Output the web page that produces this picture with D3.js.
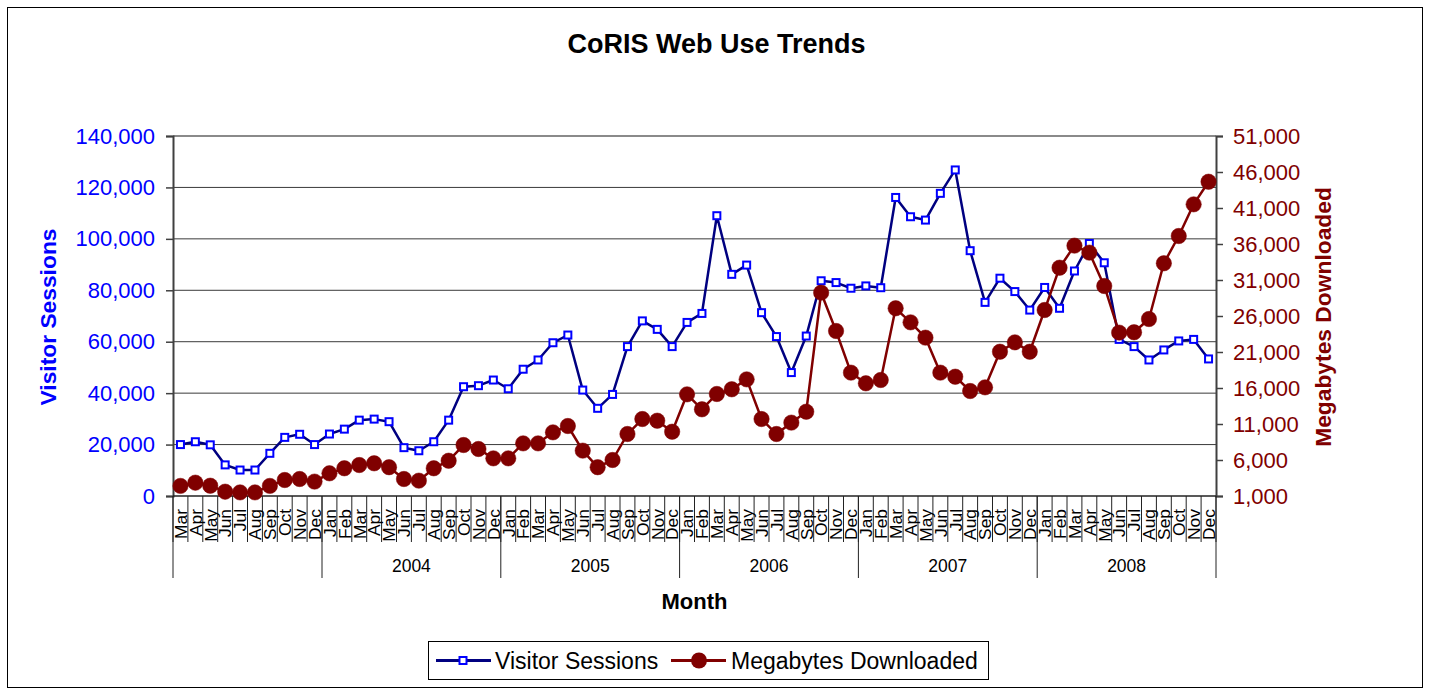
<!DOCTYPE html>
<html>
<head>
<meta charset="utf-8">
<script src="https://cdn.jsdelivr.net/npm/d3@7"></script>
<style>
  html, body { margin: 0; padding: 0; background: #fff; }
  svg { display: block; font-family: "Liberation Sans", Arial, sans-serif; }
</style>
</head>
<body>
<svg id="chart" width="1430" height="691"></svg>
<script>
// ---- Data ----
const monthNames = ["Mar","Apr","May","Jun","Jul","Aug","Sep","Oct","Nov","Dec",
  "Jan","Feb","Mar","Apr","May","Jun","Jul","Aug","Sep","Oct","Nov","Dec",
  "Jan","Feb","Mar","Apr","May","Jun","Jul","Aug","Sep","Oct","Nov","Dec",
  "Jan","Feb","Mar","Apr","May","Jun","Jul","Aug","Sep","Oct","Nov","Dec",
  "Jan","Feb","Mar","Apr","May","Jun","Jul","Aug","Sep","Oct","Nov","Dec",
  "Jan","Feb","Mar","Apr","May","Jun","Jul","Aug","Sep","Oct","Nov","Dec"];
const yearLabels = ["", "2004", "2005", "2006", "2007", "2008"];
const yearCounts = [10, 12, 12, 12, 12, 12];

const visitorSessions = [
  20000, 21100, 19900, 12100, 10100, 10100, 16600, 22800, 24000, 20000,
  24100, 26000, 29500, 29900, 28900, 18800, 17600, 21100, 29500, 42500, 42900, 45100,
  41700, 49300, 52900, 59600, 62600, 41200, 34100, 39500, 58100, 68100, 64800, 58100,
  67500, 71000, 109000, 86200, 89800, 71300, 62000, 48000, 62200, 83700, 83000, 80800,
  81700, 81000, 116100, 108600, 107300, 117700, 126800, 95400, 75300, 84700, 79500, 72300,
  81100, 73000, 87500, 98200, 90700, 60900, 58100, 52900, 56800, 60300, 60900, 53300
];
const megabytesDownloaded = [
  2400, 2850, 2430, 1600, 1500, 1500, 2400, 3220, 3360, 3000,
  4150, 4850, 5300, 5540, 5000, 3360, 3130, 4850, 5900, 8080, 7530, 6230,
  6230, 8310, 8310, 9840, 10720, 7300, 5000, 6000, 9610, 11690, 11460, 9930,
  15120, 13040, 15170, 15820, 17200, 11690, 9610, 11190, 12710, 29240, 23920, 18130,
  16650, 17110, 27070, 25120, 22990, 18130, 17570, 15580, 16090, 21040, 22340, 21040,
  26830, 32710, 35770, 34800, 30170, 23690, 23740, 25580, 33320, 37110, 41510, 44650
];
const leftTicks = [0, 20000, 40000, 60000, 80000, 100000, 120000, 140000];
const rightTicks = [1000, 6000, 11000, 16000, 21000, 26000, 31000, 36000, 41000, 46000, 51000];

// ---- Layout ----
const svg = d3.select("#chart");
const L = 173, R = 1216, T = 136, B = 496;
const BLUE = "#0000FF", NAVY = "#000080", MAROON = "#800000";

const x = d3.scaleBand().domain(d3.range(monthNames.length)).range([L, R]).padding(0);
const xc = i => x(i) + x.bandwidth() / 2;
const yL = d3.scaleLinear().domain([0, 140000]).range([B, T]);
const yR = d3.scaleLinear().domain([1000, 51000]).range([B, T]);

// outer border
svg.append("rect").attr("x", 7.5).attr("y", 7.5).attr("width", 1415).attr("height", 680)
  .attr("fill", "#fff").attr("stroke", "#000").attr("stroke-width", 1);

// title
svg.append("text").attr("x", 716.5).attr("y", 53).attr("text-anchor", "middle")
  .attr("font-size", "27px").attr("font-weight", "bold").attr("fill", "#000")
  .text("CoRIS Web Use Trends");

// gridlines
svg.append("g").selectAll("line").data(leftTicks.filter(v => v > 0 && v < 140000)).join("line")
  .attr("x1", L).attr("x2", R).attr("y1", d => yL(d)).attr("y2", d => yL(d))
  .attr("stroke", "#3a3a3a").attr("stroke-width", 1);
// plot area top border
svg.append("line").attr("x1", L).attr("x2", R).attr("y1", T).attr("y2", T)
  .attr("stroke", "#8a8a8a").attr("stroke-width", 2);

// left axis
const gL = svg.append("g").attr("transform", `translate(${L},0)`)
  .call(d3.axisLeft(yL).tickValues(leftTicks).tickSize(7).tickPadding(11).tickFormat(d3.format(",")));
gL.select(".domain").attr("stroke", "#404040").attr("stroke-width", 2);
gL.selectAll(".tick line").attr("stroke", "#404040").attr("stroke-width", 1.5);
gL.selectAll(".tick text").attr("fill", BLUE).attr("font-size", "22px")
  .attr("font-family", "'Liberation Sans', Arial, sans-serif");

// right axis
const gR = svg.append("g").attr("transform", `translate(${R},0)`)
  .call(d3.axisRight(yR).tickValues(rightTicks).tickSize(7).tickPadding(10).tickFormat(d3.format(",")));
gR.select(".domain").attr("stroke", "#404040").attr("stroke-width", 2);
gR.selectAll(".tick line").attr("stroke", "#404040").attr("stroke-width", 1.5);
gR.selectAll(".tick text").attr("fill", MAROON).attr("font-size", "22px")
  .attr("font-family", "'Liberation Sans', Arial, sans-serif");

// axis titles
svg.append("text").attr("transform", "translate(56,317) rotate(-90)").attr("text-anchor", "middle")
  .attr("font-size", "22.8px").attr("font-weight", "bold").attr("fill", BLUE).text("Visitor Sessions");
svg.append("text").attr("transform", "translate(1331,317) rotate(-90)").attr("text-anchor", "middle")
  .attr("font-size", "22.8px").attr("font-weight", "bold").attr("fill", MAROON).text("Megabytes Downloaded");

// x axis
svg.append("line").attr("x1", L).attr("x2", R).attr("y1", B).attr("y2", B)
  .attr("stroke", "#222").attr("stroke-width", 1.5);
const bounds = d3.range(monthNames.length + 1).map(k => L + k * x.bandwidth());
svg.append("g").selectAll("line").data(bounds).join("line")
  .attr("x1", d => d).attr("x2", d => d).attr("y1", B).attr("y2", 542)
  .attr("stroke", "#222").attr("stroke-width", 1);
svg.append("g").selectAll("text").data(monthNames).join("text")
  .attr("transform", (d, i) => `translate(${xc(i)},509) rotate(-90)`)
  .attr("text-anchor", "end").attr("dy", "0.36em")
  .attr("font-size", "17.4px").attr("fill", "#000").text(d => d);

// year groups
let cum = 0;
const groups = yearCounts.map((c, gi) => { const g = { start: cum, end: cum + c, label: yearLabels[gi] }; cum += c; return g; });
const groupBounds = [0].concat(groups.map(g => g.end));
svg.append("g").selectAll("line").data(groupBounds).join("line")
  .attr("x1", k => L + k * x.bandwidth()).attr("x2", k => L + k * x.bandwidth())
  .attr("y1", B).attr("y2", 578).attr("stroke", "#222").attr("stroke-width", 1);
svg.append("g").selectAll("text").data(groups).join("text")
  .attr("x", g => L + (g.start + g.end) / 2 * x.bandwidth()).attr("y", 572)
  .attr("text-anchor", "middle").attr("font-size", "17.5px").attr("fill", "#000").text(g => g.label);

svg.append("text").attr("x", (L + R) / 2).attr("y", 609).attr("text-anchor", "middle")
  .attr("font-size", "22px").attr("font-weight", "bold").attr("fill", "#000").text("Month");

// series: visitor sessions
const lineL = d3.line().x((d, i) => xc(i)).y(d => yL(d));
const lineR = d3.line().x((d, i) => xc(i)).y(d => yR(d));

svg.append("path").datum(visitorSessions).attr("d", lineL)
  .attr("fill", "none").attr("stroke", NAVY).attr("stroke-width", 2.5).attr("stroke-linejoin", "round");
svg.append("g").selectAll("rect").data(visitorSessions).join("rect")
  .attr("x", (d, i) => xc(i) - 3.5).attr("y", d => yL(d) - 3.5)
  .attr("width", 7).attr("height", 7)
  .attr("fill", "#fff").attr("stroke", BLUE).attr("stroke-width", 2);

// series: megabytes
svg.append("path").datum(megabytesDownloaded).attr("d", lineR)
  .attr("fill", "none").attr("stroke", MAROON).attr("stroke-width", 2.5).attr("stroke-linejoin", "round");
svg.append("g").selectAll("circle").data(megabytesDownloaded).join("circle")
  .attr("cx", (d, i) => xc(i)).attr("cy", d => yR(d)).attr("r", 7.7)
  .attr("fill", MAROON).attr("stroke", MAROON).attr("stroke-width", 0.5);

// legend
const lg = svg.append("g");
lg.append("rect").attr("x", 428.5).attr("y", 641.5).attr("width", 560).attr("height", 38)
  .attr("fill", "#fff").attr("stroke", "#000").attr("stroke-width", 1);
lg.append("line").attr("x1", 436).attr("x2", 491).attr("y1", 660.5).attr("y2", 660.5)
  .attr("stroke", NAVY).attr("stroke-width", 2.8);
lg.append("rect").attr("x", 459.5).attr("y", 657).attr("width", 7).attr("height", 7)
  .attr("fill", "#fff").attr("stroke", BLUE).attr("stroke-width", 2);
lg.append("text").attr("x", 495).attr("y", 669).attr("font-size", "23px").attr("fill", "#000").text("Visitor Sessions");
lg.append("line").attr("x1", 671).attr("x2", 726).attr("y1", 660.5).attr("y2", 660.5)
  .attr("stroke", MAROON).attr("stroke-width", 2.8);
lg.append("circle").attr("cx", 699).attr("cy", 660.5).attr("r", 8).attr("fill", MAROON);
lg.append("text").attr("x", 731).attr("y", 669).attr("font-size", "23px").attr("fill", "#000").text("Megabytes Downloaded");
</script>
</body>
</html>
